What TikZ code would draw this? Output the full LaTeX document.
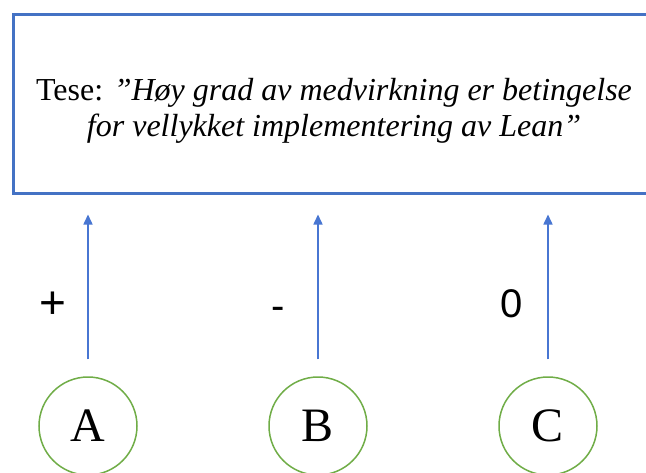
\documentclass[tikz,border=0pt]{standalone}
\usepackage{fontspec}
\setmainfont{Liberation Serif}
\newfontfamily\labelfont{Liberation Sans}
\usetikzlibrary{arrows.meta}
\definecolor{boxblue}{RGB}{68,114,196}
\definecolor{arrowblue}{RGB}{72,118,210}
\definecolor{circlegreen}{RGB}{112,173,71}
\tikzset{
  thesis/.style={draw=boxblue, line width=3pt, minimum width=643pt, minimum height=179pt,
                 inner sep=0pt},
  thesistext/.style={align=center, font=\fontsize{32}{36}\selectfont, inner sep=0pt},
  actor/.style={circle, draw=circlegreen, line width=1.5pt, minimum size=98pt, inner sep=0pt,
                font=\fontsize{48}{48}\selectfont},
  vote/.style={font=\labelfont\fontsize{40}{40}\selectfont, inner sep=0pt},
  support/.style={draw=arrowblue, line width=1.5pt, -{Triangle[width=9pt,length=10pt]},
                  shorten <=17pt, shorten >=20pt}
}
\begin{document}
\begin{tikzpicture}[x=1pt, y=-1pt]
  \clip (0,0) rectangle (646,472);
  \fill[white] (0,0) rectangle (646,472);

  % thesis box, running past the right edge
  \node[thesis] (box) at (334.75,103.5) {};
  \node[thesistext, anchor=base] (thesis) at (334,136)
    {Tese: \textit{”Høy grad av medvirkning er betingelse}\\ \textit{for vellykket implementering av Lean”}};

  % actors
  \node[actor] (A) at (88,426) {A};
  \node[actor] (B) at (318,426) {B};
  \node[actor] (C) at (548,426) {C};

  % support arrows
  \draw[support] (A.north) -- (A.north |- box.south);
  \draw[support] (B.north) -- (B.north |- box.south);
  \draw[support] (C.north) -- (C.north |- box.south);

  % assessment signs
  \node[vote, font=\labelfont\fontsize{46}{46}\selectfont] (plus) at (53,305) {+};
  \node[vote] (minus) at (278,313) {-};
  \node[vote] (zero) at (512,304) {0};
\end{tikzpicture}
\end{document}
